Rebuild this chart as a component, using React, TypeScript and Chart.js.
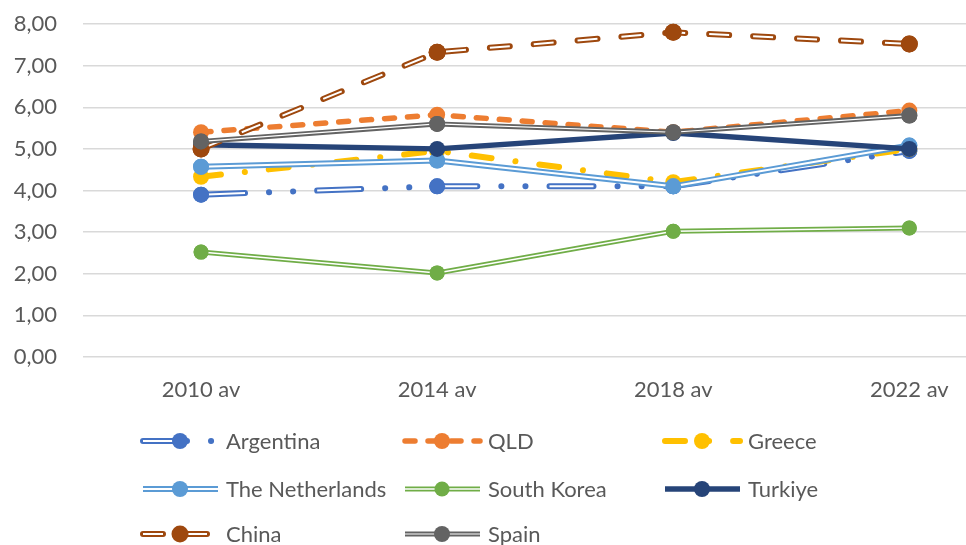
import React, { useEffect, useRef } from "react";
import { Chart, registerables } from "chart.js";
Chart.register(...registerables);

const categories = ["2010 av", "2014 av", "2018 av", "2022 av"];
const seriesNames = ["Argentina", "QLD", "Greece", "The Netherlands", "South Korea", "Turkiye", "China", "Spain"];
const argentina = [3.9, 4.1, 4.1, 4.95];
const qld = [5.4, 5.82, 5.4, 5.92];
const greece = [4.33, 4.95, 4.2, 5.0];
const netherlands = [4.57, 4.72, 4.1, 5.08];
const southKorea = [2.52, 2.02, 3.02, 3.1];
const turkiye = [5.1, 5.0, 5.38, 5.0];
const china = [5.0, 7.32, 7.8, 7.52];
const spain = [5.18, 5.6, 5.4, 5.8];
const yTicks = [0, 1, 2, 3, 4, 5, 6, 7, 8];

const seriesValues = [argentina, qld, greece, netherlands, southKorea, turkiye, china, spain];

type Style = {
  color: string;
  width: number;
  dash: number[];
  cap: CanvasLineCap;
  inner?: number;
  innerDash?: number[];
  radius: number;
};

const styles: Style[] = [
  { color: "#4472C4", width: 6, dash: [44, 24, 0.1, 24, 0.1, 24], cap: "round", inner: 2, innerDash: [44, 72.2], radius: 8 },
  { color: "#ED7D31", width: 5.5, dash: [10, 13], cap: "round", radius: 8 },
  { color: "#FFC000", width: 6, dash: [20, 24, 0.1, 24], cap: "round", radius: 8 },
  { color: "#5B9BD5", width: 6, dash: [], cap: "butt", inner: 2, innerDash: [], radius: 8 },
  { color: "#70AD47", width: 5, dash: [], cap: "butt", inner: 1.5, innerDash: [], radius: 7.5 },
  { color: "#264478", width: 5.5, dash: [], cap: "butt", radius: 8 },
  { color: "#9E480E", width: 6, dash: [20, 24], cap: "round", inner: 2, innerDash: [20, 24], radius: 8.5 },
  { color: "#636363", width: 5, dash: [], cap: "butt", inner: 1.2, innerDash: [], radius: 8 },
];

const FONT = "Lato, 'Open Sans', sans-serif";
const TEXT = "#595959";

const legendPos = [
  [143, 441], [405, 441], [665, 441],
  [143, 489], [405, 489], [665, 489],
  [143, 534], [405, 534],
];

function drawSymbol(ctx: CanvasRenderingContext2D, s: Style, x0: number, y: number) {
  const len = 75;
  ctx.save();
  ctx.beginPath();
  ctx.moveTo(x0, y);
  ctx.lineTo(x0 + len, y);
  ctx.strokeStyle = s.color;
  ctx.lineWidth = s.width;
  ctx.lineCap = s.cap;
  ctx.setLineDash(s.dash);
  ctx.stroke();
  if (s.inner) {
    ctx.beginPath();
    ctx.moveTo(x0, y);
    ctx.lineTo(x0 + len, y);
    ctx.strokeStyle = "#ffffff";
    ctx.lineWidth = s.inner;
    ctx.lineCap = "butt";
    ctx.setLineDash(s.innerDash || []);
    ctx.stroke();
  }
  ctx.setLineDash([]);
  ctx.beginPath();
  ctx.arc(x0 + 37, y, s.radius, 0, Math.PI * 2);
  ctx.fillStyle = s.color;
  ctx.fill();
  ctx.restore();
}

const customPlugin = {
  id: "customLook",
  afterDatasetDraw(chart: any, args: any) {
    const s = styles[seriesNames.indexOf(chart.data.datasets[args.index].label)];
    if (!s || !s.inner) return;
    const ctx: CanvasRenderingContext2D = chart.ctx;
    const pts = args.meta.data;
    ctx.save();
    ctx.beginPath();
    pts.forEach((p: any, i: number) => (i ? ctx.lineTo(p.x, p.y) : ctx.moveTo(p.x, p.y)));
    ctx.strokeStyle = "#ffffff";
    ctx.lineWidth = s.inner;
    ctx.lineCap = "butt";
    ctx.lineJoin = "round";
    ctx.setLineDash(s.innerDash || []);
    ctx.stroke();
    ctx.restore();
    pts.forEach((p: any) => p.draw(ctx, chart.chartArea));
  },
  afterDraw(chart: any) {
    const ctx: CanvasRenderingContext2D = chart.ctx;
    seriesNames.forEach((name, i) => {
      const [x0, y] = legendPos[i];
      drawSymbol(ctx, styles[i], x0, y);
      ctx.save();
      ctx.font = `22px ${FONT}`;
      ctx.fillStyle = TEXT;
      ctx.textAlign = "left";
      ctx.textBaseline = "middle";
      ctx.fillText(name, x0 + 83, y + 1);
      ctx.restore();
    });
  },
};

export default function App() {
  const ref = useRef<HTMLCanvasElement>(null);
  useEffect(() => {
    if (!ref.current) return;
    const datasets = seriesNames.map((name, i) => {
      const s = styles[i];
      return {
        label: name,
        data: seriesValues[i].map((v, j) => ({ x: j, y: v })),
        borderColor: s.color,
        backgroundColor: s.color,
        borderWidth: s.width,
        borderDash: s.dash,
        borderCapStyle: s.cap,
        borderJoinStyle: "round" as CanvasLineJoin,
        pointRadius: s.radius,
        pointHoverRadius: s.radius,
        pointBackgroundColor: s.color,
        pointBorderColor: s.color,
        pointBorderWidth: 0,
        tension: 0,
        fill: false,
        clip: 12,
        order: seriesNames.length - i,
      };
    });
    const chart = new Chart(ref.current, {
      type: "line",
      data: { datasets },
      options: {
        animation: false,
        responsive: false,
        events: [],
        layout: { autoPadding: false, padding: { top: 24, bottom: 133, left: 0, right: 0 } },
        plugins: { legend: { display: false }, tooltip: { enabled: false } },
        scales: {
          x: {
            type: "linear",
            min: -0.5,
            max: 3.24,
            grid: { display: false },
            border: { display: false },
            afterBuildTicks: (scale: any) => {
              scale.ticks = categories.map((_, i) => ({ value: i }));
            },
            afterFit: (scale: any) => {
              scale.height = 55;
              scale.paddingLeft = 0;
              scale.paddingRight = 0;
            },
            ticks: {
              autoSkip: false,
              maxRotation: 0,
              padding: 12,
              color: TEXT,
              font: { family: FONT, size: 22 },
              callback: (v: any) => categories[v as number] ?? "",
            },
          },
          y: {
            min: 0,
            max: 8,
            afterBuildTicks: (scale: any) => {
              scale.ticks = yTicks.map((v) => ({ value: v }));
            },
            afterFit: (scale: any) => {
              scale.width = 83;
              scale.paddingTop = 12;
              scale.paddingBottom = 12;
            },
            grid: { color: "#D9D9D9", lineWidth: 1.5, drawTicks: false },
            border: { display: false },
            ticks: {
              padding: 26,
              color: TEXT,
              font: { family: FONT, size: 22 },
              callback: (v: any) => Number(v).toFixed(2).replace(".", ","),
            },
          },
        },
      },
      plugins: [customPlugin],
    });
    return () => chart.destroy();
  }, []);
  return (
    <div style={{ position: "fixed", left: 0, top: 0, width: 966, height: 545, background: "#fff" }}>
      <canvas ref={ref} width={966} height={545} />
    </div>
  );
}
